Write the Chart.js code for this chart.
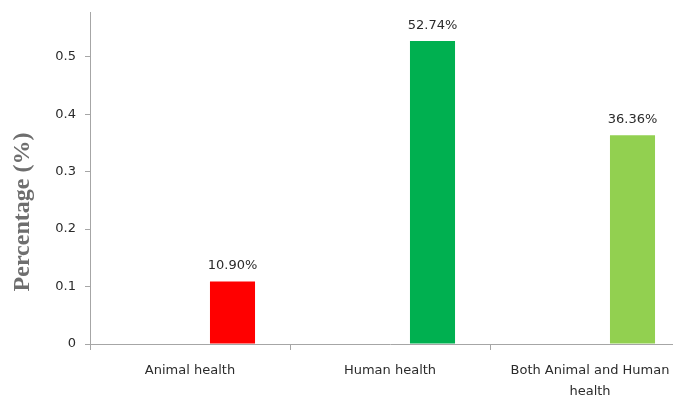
<!DOCTYPE html>
<html>
<head>
<meta charset="utf-8">
<script src="https://cdn.jsdelivr.net/npm/chart.js@4/dist/chart.umd.min.js"></script>
<style>
  html, body { margin: 0; padding: 0; background: #fff; overflow: hidden; }
  #wrap { width: 700px; height: 397px; }
</style>
</head>
<body>
<div id="wrap"><canvas id="c" width="700" height="397"></canvas></div>
<script>
// Share of reported cases by health domain
const categories = ['Animal health', 'Human health', ['Both Animal and Human', 'health']];
const shareValues = [0.109, 0.5274, 0.3636];
const barColors = ['#FF0000', '#00B050', '#92D050'];
const yTicks = [0, 0.1, 0.2, 0.3, 0.4, 0.5];
const yTitle = 'Percentage (%)';

const axisGrey = '#A6A6A6';
const textColor = '#2B2B2B';

// Writes the percentage above each visible bar
const valueLabels = {
  id: 'valueLabels',
  afterDatasetsDraw(chart) {
    const ctx = chart.ctx;
    const meta = chart.getDatasetMeta(1);
    ctx.save();
    ctx.font = '13px "DejaVu Sans"';
    ctx.fillStyle = textColor;
    ctx.textAlign = 'center';
    ctx.textBaseline = 'bottom';
    meta.data.forEach((bar, i) => {
      const v = chart.data.datasets[1].data[i];
      ctx.fillText((v * 100).toFixed(2) + '%', bar.x, bar.y - 9);
    });
    ctx.restore();
  }
};

// Vertical axis caption, set a little below the middle of the axis
const axisCaption = {
  id: 'axisCaption',
  afterDraw(chart) {
    const ctx = chart.ctx;
    ctx.save();
    ctx.translate(23, 212);
    ctx.rotate(-Math.PI / 2);
    ctx.font = 'bold 24px "Liberation Serif"';
    ctx.fillStyle = '#6E6E6E';
    ctx.textAlign = 'center';
    ctx.textBaseline = 'middle';
    ctx.fillText(yTitle, 0, 0);
    ctx.restore();
  }
};

new Chart(document.getElementById('c'), {
  type: 'bar',
  data: {
    labels: categories,
    datasets: [
      { label: 'spacer', data: categories.map(() => null), backgroundColor: 'rgba(0,0,0,0)' },
      { label: 'Percentage', data: shareValues, backgroundColor: barColors }
    ]
  },
  options: {
    responsive: false,
    animation: false,
    events: [],
    layout: { padding: { left: 0, right: 10, top: 12, bottom: 0 } },
    plugins: { legend: { display: false }, tooltip: { enabled: false } },
    datasets: { bar: { categoryPercentage: 0.85, barPercentage: 0.53 } },
    scales: {
      x: {
        offset: true,
        grid: { offset: true, drawOnChartArea: false, color: axisGrey, tickLength: 6 },
        border: { color: axisGrey, width: 1 },
        ticks: { color: textColor, font: { family: 'DejaVu Sans', size: 13, lineHeight: 1.55 }, padding: 11, maxRotation: 0, autoSkip: false },
        afterFit(scale) { scale.height = 53; }
      },
      y: {
        min: 0,
        max: 0.578,
        afterBuildTicks(scale) { scale.ticks = yTicks.map(v => ({ value: v })); },
        grid: { drawOnChartArea: false, color: axisGrey, tickLength: 5 },
        border: { color: axisGrey, width: 1 },
        ticks: { color: textColor, font: { family: 'DejaVu Sans', size: 13 }, padding: 9,
          callback: v => String(Math.round(v * 10) / 10) },
        afterFit(scale) {
          scale.width = 90;
          scale.paddingTop = 0;
          scale.paddingBottom = 0;
        }
      }
    }
  },
  plugins: [valueLabels, axisCaption]
});
</script>
</body>
</html>
